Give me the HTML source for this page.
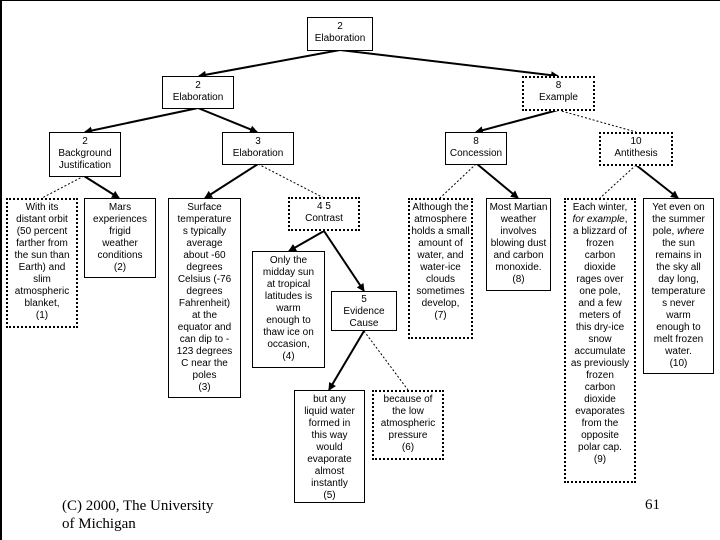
<!DOCTYPE html>
<html><head><meta charset="utf-8"><style>
body{margin:0;width:720px;height:540px;background:#fff;position:relative;overflow:hidden;font-family:"Liberation Sans",Arial,sans-serif}
.b{position:absolute;box-sizing:border-box;border:1px solid #000;background:#fff;font-size:10px;line-height:12px;text-align:center;padding-top:3px;color:#000}
.d{border:2px dotted #000;padding-top:2px}
.f{position:absolute;font-family:"Liberation Serif",serif;font-size:15px;line-height:18px}
</style></head><body>
<div style="position:absolute;left:0;top:0;width:720px;height:1px;background:#000"></div>
<div style="position:absolute;left:0;top:0;width:2px;height:540px;background:#000"></div>
<svg width="720" height="540" style="position:absolute;left:0;top:0">
<defs><marker id="a" markerWidth="8" markerHeight="8" refX="7" refY="4" orient="auto" markerUnits="userSpaceOnUse"><path d="M0,0 L8,4 L0,8z" fill="#000"/></marker></defs>
<g stroke="#000" stroke-width="2" marker-end="url(#a)">
<line x1="340" y1="50" x2="199" y2="76"/>
<line x1="340" y1="50" x2="558" y2="76"/>
<line x1="198" y1="108" x2="85" y2="132"/>
<line x1="198" y1="108" x2="257" y2="132"/>
<line x1="84" y1="176" x2="119" y2="198"/>
<line x1="258" y1="164" x2="205" y2="198"/>
<line x1="324" y1="231" x2="289" y2="251"/>
<line x1="324" y1="231" x2="364" y2="291"/>
<line x1="364" y1="331" x2="329" y2="390"/>
<line x1="558" y1="110" x2="476" y2="132"/>
<line x1="477" y1="164" x2="518" y2="198"/>
<line x1="636" y1="165" x2="678" y2="198"/>
</g>
<g stroke="#000" stroke-width="1" stroke-dasharray="2,2">
<line x1="84" y1="176" x2="42" y2="198"/>
<line x1="258" y1="164" x2="324" y2="198"/>
<line x1="364" y1="331" x2="408" y2="390"/>
<line x1="558" y1="110" x2="636" y2="132"/>
<line x1="476" y1="164" x2="440" y2="198"/>
<line x1="636" y1="165" x2="600" y2="198"/>
</g>
</svg>
<div class="b" style="left:307px;top:17px;width:66px;height:34px">2<br>Elaboration</div>
<div class="b" style="left:162px;top:76px;width:72px;height:33px">2<br>Elaboration</div>
<div class="b d" style="left:522px;top:76px;width:73px;height:35px">8<br>Example</div>
<div class="b" style="left:49px;top:132px;width:72px;height:45px">2<br>Background<br>Justification</div>
<div class="b" style="left:222px;top:132px;width:72px;height:33px">3<br>Elaboration</div>
<div class="b" style="left:445px;top:132px;width:62px;height:33px">8<br>Concession</div>
<div class="b d" style="left:599px;top:132px;width:74px;height:34px">10<br>Antithesis</div>
<div class="b d" style="left:6px;top:198px;width:72px;height:130px">With its<br>distant orbit<br>(50 percent<br>farther from<br>the sun than<br>Earth) and<br>slim<br>atmospheric<br>blanket,<br>(1)</div>
<div class="b" style="left:84px;top:198px;width:72px;height:80px">Mars<br>experiences<br>frigid<br>weather<br>conditions<br>(2)</div>
<div class="b" style="left:168px;top:198px;width:73px;height:200px">Surface<br>temperature<br>s typically<br>average<br>about -60<br>degrees<br>Celsius (-76<br>degrees<br>Fahrenheit)<br>at the<br>equator and<br>can dip to -<br>123 degrees<br>C near the<br>poles<br>(3)</div>
<div class="b d" style="left:288px;top:197px;width:72px;height:34px">4 5<br>Contrast</div>
<div class="b" style="left:252px;top:251px;width:73px;height:117px">Only the<br>midday sun<br>at tropical<br>latitudes is<br>warm<br>enough to<br>thaw ice on<br>occasion,<br>(4)</div>
<div class="b" style="left:331px;top:291px;width:66px;height:40px;padding-top:2px">5<br>Evidence<br>Cause</div>
<div class="b" style="left:294px;top:390px;width:71px;height:113px">but any<br>liquid water<br>formed in<br>this way<br>would<br>evaporate<br>almost<br>instantly<br>(5)</div>
<div class="b d" style="left:372px;top:390px;width:72px;height:70px">because of<br>the low<br>atmospheric<br>pressure<br>(6)</div>
<div class="b d" style="left:408px;top:198px;width:65px;height:141px">Although the<br>atmosphere<br>holds a small<br>amount of<br>water, and<br>water-ice<br>clouds<br>sometimes<br>develop,<br>(7)</div>
<div class="b" style="left:486px;top:198px;width:65px;height:93px">Most Martian<br>weather<br>involves<br>blowing dust<br>and carbon<br>monoxide.<br>(8)</div>
<div class="b d" style="left:564px;top:198px;width:72px;height:285px">Each winter,<br><i>for example</i>,<br>a blizzard of<br>frozen<br>carbon<br>dioxide<br>rages over<br>one pole,<br>and a few<br>meters of<br>this dry-ice<br>snow<br>accumulate<br>as previously<br>frozen<br>carbon<br>dioxide<br>evaporates<br>from the<br>opposite<br>polar cap.<br>(9)</div>
<div class="b" style="left:643px;top:198px;width:71px;height:176px">Yet even on<br>the summer<br>pole, <i>where</i><br>the sun<br>remains in<br>the sky all<br>day long,<br>temperature<br>s never<br>warm<br>enough to<br>melt frozen<br>water.<br>(10)</div>
<div class="f" style="left:62px;top:497px">(C) 2000, The University<br>of Michigan</div>
<div class="f" style="left:645px;top:496px">61</div>
</body></html>
